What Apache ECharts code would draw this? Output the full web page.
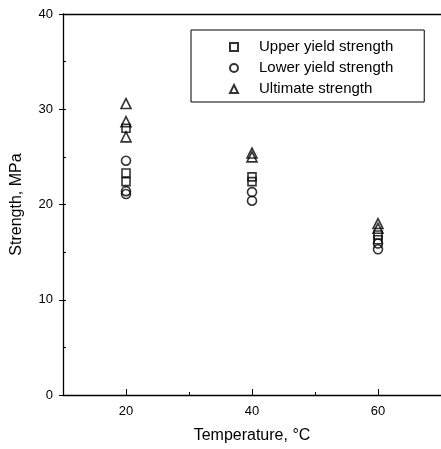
<!DOCTYPE html>
<html>
<head>
<meta charset="utf-8">
<script src="https://cdn.jsdelivr.net/npm/echarts@6/dist/echarts.min.js"></script>
<style>
  html, body { margin: 0; padding: 0; background: #fff; }
  #chart { width: 441px; height: 449px; }
</style>
</head>
<body>
<div id="chart"></div>
<script>
// values (temperature in degC, strength in MPa)
var temps_upper = [20, 20, 20, 40, 40, 60, 60];
var upper_yield = [28.0, 23.3, 22.4, 22.9, 22.4, 16.8, 16.3];
var temps_lower = [20, 20, 20, 40, 40, 60, 60];
var lower_yield = [24.6, 21.4, 21.1, 21.3, 20.4, 15.9, 15.3];
var temps_ult = [20, 20, 20, 40, 40, 60, 60];
var ultimate = [30.6, 28.7, 27.1, 25.4, 25.0, 18.0, 17.5];
var x_major = [20, 40, 60];
var x_minor = [30, 50];
var names = ['Upper yield strength', 'Lower yield strength', 'Ultimate strength'];

function pairs(xs, ys){
  var out = [];
  for(var i=0;i<xs.length;i++){
    out.push([xs[i], ys[i]]);
  }
  return out;
}

var font = 'Liberation Sans, Arial, sans-serif';
var chart = echarts.init(document.getElementById('chart'));

function series_of(name, symbol, size, xs, ys){
  return {
    name: name, type: 'scatter', symbol: symbol, symbolSize: size,
    xAxisIndex: 0, yAxisIndex: 0,
    itemStyle: { color: 'rgba(0,0,0,0)', borderColor: '#000', borderWidth: 1.6 },
    data: pairs(xs, ys)
  };
}

option = {
  animation: false,
  textStyle: { fontFamily: font },
  grid: { left: 63, right: 0, top: 14, bottom: 53 },
  legend: {
    data: names,
    orient: 'vertical',
    left: 191, top: 30,
    itemWidth: 8, itemHeight: 8, itemGap: 5,
    symbolKeepAspect: true,
    padding: [9, 31, 5, 38],
    borderColor: '#000', borderWidth: 1,
    textStyle: { fontFamily: font, fontSize: 15, lineHeight: 16, color: '#000', padding: [0, 0, 0, 16] }
  },
  xAxis: [
    {   // main x axis, major ticks at 20/40/60
      type: 'value', min: 10, max: 70, position: 'bottom',
      name: 'Temperature, \u00B0C', nameLocation: 'middle', nameGap: 33,
      nameTextStyle: { fontFamily: font, fontSize: 16, color: '#000' },
      axisLine: { lineStyle: { color: '#000', width: 1.3 } },
      axisTick: { inside: true, length: 6, customValues: x_major, lineStyle: { color: '#000' } },
      axisLabel: { customValues: x_major, margin: 10, fontSize: 13, color: '#000', fontFamily: font },
      splitLine: { show: false }
    },
    {   // minor ticks only
      type: 'value', min: 10, max: 70, position: 'bottom',
      axisLine: { show: false },
      axisTick: { inside: true, length: 3, customValues: x_minor, lineStyle: { color: '#000' } },
      axisLabel: { show: false },
      splitLine: { show: false }
    },
    {   // top frame line
      type: 'value', min: 10, max: 70, position: 'top',
      axisLine: { lineStyle: { color: '#000', width: 1.3 } },
      axisTick: { show: false }, axisLabel: { show: false }, splitLine: { show: false }
    }
  ],
  yAxis: [
    {
      type: 'value', min: 0, max: 40, interval: 10, position: 'left',
      name: 'Strength, MPa', nameLocation: 'middle', nameGap: 38, nameRotate: 90,
      nameTextStyle: { fontFamily: font, fontSize: 16, color: '#000' },
      axisLine: { show: true, lineStyle: { color: '#000', width: 1.3 } },
      axisTick: { inside: false, length: 4, lineStyle: { color: '#000' } },
      axisLabel: { margin: 10, fontSize: 13, color: '#000', fontFamily: font },
      splitLine: { show: false }
    },
    {   // minor ticks on the inside
      type: 'value', min: 0, max: 40, interval: 5, position: 'left',
      axisLine: { show: false },
      axisTick: { inside: true, length: 3, lineStyle: { color: '#000' } },
      axisLabel: { show: false },
      splitLine: { show: false }
    }
  ],
  series: [
    series_of(names[0], 'rect', 8, temps_upper, upper_yield),
    series_of(names[1], 'circle', 9, temps_lower, lower_yield),
    series_of(names[2], 'triangle', 10, temps_ult, ultimate)
  ]
};
chart.setOption(option);
</script>
</body>
</html>
